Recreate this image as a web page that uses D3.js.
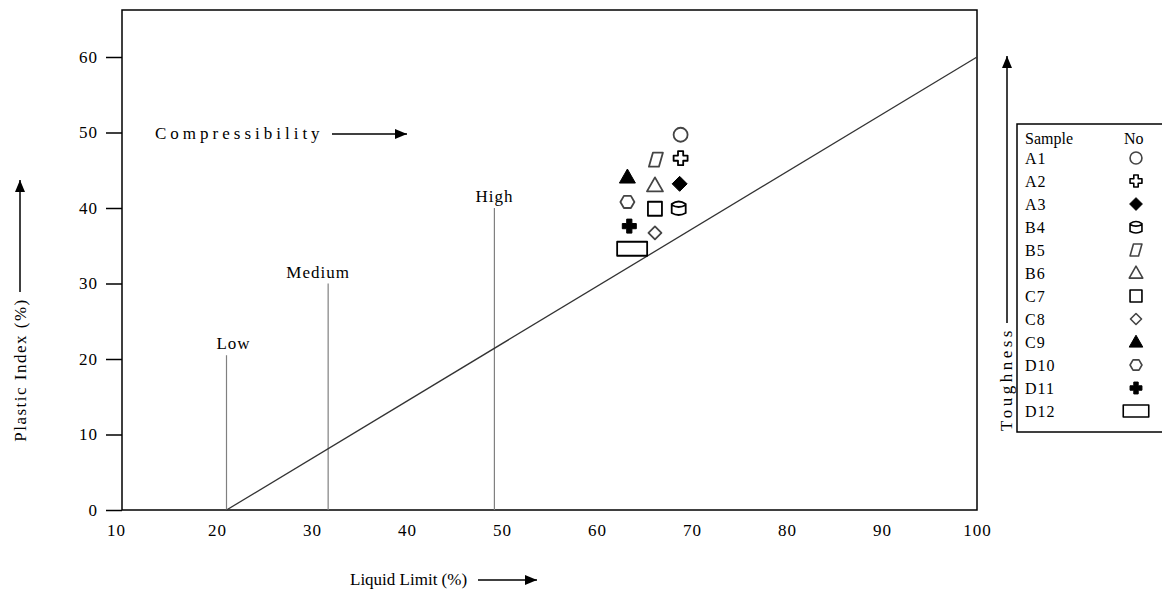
<!DOCTYPE html>
<html>
<head>
<meta charset="utf-8">
<script src="https://cdn.jsdelivr.net/npm/d3@7"></script>
<style>
    body { margin: 0; background: #fff; }
    text { font-family: "Liberation Serif", "Times New Roman", serif; fill: #000; }
</style>
</head>
<body>
<div id="chart"></div>
<script>
const xTicks = [10, 20, 30, 40, 50, 60, 70, 80, 90, 100];
const yTicks = [0, 10, 20, 30, 40, 50, 60];

const samples = ["A1", "A2", "A3", "B4", "B5", "B6", "C7", "C8", "C9", "D10", "D11", "D12"];
const liquidLimit = [68.8, 68.8, 68.7, 68.6, 66.2, 66.1, 66.1, 66.1, 63.2, 63.2, 63.4, 63.7];
const plasticIndex = [49.7, 46.6, 43.2, 40.0, 46.4, 43.0, 39.9, 36.7, 44.1, 40.8, 37.6, 34.6];
const shapes = ["circle", "cross", "diamondFill", "cylinder", "parallelogram", "triangle",
    "square", "diamond", "triangleFill", "hexagon", "crossFill", "rect"];

const zoneNames = ["Low", "Medium", "High"];
const zoneLL = [21, 31.7, 49.2];
const zonePI = [20.5, 30, 40];

const lineLL = [21, 100];
const linePI = [0, 60];

const width = 1162;
const height = 594;
const plot = { left: 122, right: 977, top: 10, bottom: 510 };

const xScale = d3.scaleLinear().domain([10, 100]).range([plot.left, plot.right]);
const yScale = d3.scaleLinear().domain([0, 60]).range([plot.bottom, 57]);

const svg = d3.select("#chart").append("svg")
    .attr("width", width)
    .attr("height", height)
    .attr("viewBox", [0, 0, width, height]);

svg.append("defs").append("marker")
    .attr("id", "head")
    .attr("viewBox", "0 0 12 10")
    .attr("refX", 12)
    .attr("refY", 5)
    .attr("markerWidth", 12)
    .attr("markerHeight", 10)
    .attr("markerUnits", "userSpaceOnUse")
    .attr("orient", "auto")
    .append("path")
    .attr("d", "M0,0 L12,5 L0,10 Z")
    .attr("fill", "#000");

// frame
svg.append("rect")
    .attr("x", plot.left)
    .attr("y", plot.top)
    .attr("width", plot.right - plot.left)
    .attr("height", plot.bottom - plot.top)
    .attr("fill", "none")
    .attr("stroke", "#000")
    .attr("stroke-width", 1.5);

// axes
const yAxis = svg.append("g")
    .attr("transform", `translate(${plot.left}, 0)`)
    .call(d3.axisLeft(yScale).tickValues(yTicks).tickSize(16).tickPadding(8));
yAxis.select(".domain").remove();
yAxis.selectAll(".tick line").attr("stroke", "#000").attr("stroke-width", 1.5);
yAxis.selectAll("text").attr("font-size", 17).attr("letter-spacing", 1).style("font-family", "Liberation Serif");

const xAxis = svg.append("g")
    .attr("transform", `translate(0, ${plot.bottom})`)
    .call(d3.axisBottom(xScale).tickValues(xTicks).tickSize(0).tickPadding(14));
xAxis.select(".domain").remove();
xAxis.selectAll("text").attr("font-size", 17).attr("letter-spacing", 1).style("font-family", "Liberation Serif");
xAxis.selectAll(".tick").filter((d) => d === 10).select("text").attr("dx", -6);

// compressibility zones
svg.append("g")
    .selectAll("line")
    .data(zoneNames)
    .join("line")
    .attr("x1", (d, i) => xScale(zoneLL[i]))
    .attr("x2", (d, i) => xScale(zoneLL[i]))
    .attr("y1", yScale(0))
    .attr("y2", (d, i) => yScale(zonePI[i]))
    .attr("stroke", "#808080")
    .attr("stroke-width", 1.2);

svg.append("g")
    .selectAll("text")
    .data(zoneNames)
    .join("text")
    .attr("x", (d, i) => xScale(zoneLL[i]) + (i === 1 ? -10 : i === 0 ? 7 : 0))
    .attr("y", (d, i) => yScale(zonePI[i]) - 6)
    .attr("text-anchor", "middle")
    .attr("font-size", 17)
    .attr("letter-spacing", 1)
    .text((d) => d);

// diagonal line
svg.append("path")
    .datum(lineLL.map((d, i) => [d, linePI[i]]))
    .attr("fill", "none")
    .attr("stroke", "#333")
    .attr("stroke-width", 1.3)
    .attr("d", d3.line().x((d) => xScale(d[0])).y((d) => yScale(d[1])));

// marker shapes
function shapePath(type, k) {
    const p = d3.path();
    const s = (v) => v * k;
    if (type === "circle") {
        p.arc(0, 0, s(7), 0, 2 * Math.PI);
    } else if (type === "cross" || type === "crossFill") {
        const a = s(2.6), b = s(7);
        p.moveTo(-a, -b); p.lineTo(a, -b); p.lineTo(a, -a); p.lineTo(b, -a);
        p.lineTo(b, a); p.lineTo(a, a); p.lineTo(a, b); p.lineTo(-a, b);
        p.lineTo(-a, a); p.lineTo(-b, a); p.lineTo(-b, -a); p.lineTo(-a, -a);
        p.closePath();
    } else if (type === "diamondFill") {
        p.moveTo(0, -s(7.5)); p.lineTo(s(7.5), 0); p.lineTo(0, s(7.5)); p.lineTo(-s(7.5), 0); p.closePath();
    } else if (type === "diamond") {
        p.moveTo(0, -s(6.5)); p.lineTo(s(6.5), 0); p.lineTo(0, s(6.5)); p.lineTo(-s(6.5), 0); p.closePath();
    } else if (type === "cylinder") {
        p.moveTo(-s(7), -s(4)); p.quadraticCurveTo(0, -s(9), s(7), -s(4));
        p.lineTo(s(7), s(5)); p.quadraticCurveTo(0, s(9), -s(7), s(5)); p.closePath();
        p.moveTo(-s(7), -s(3)); p.quadraticCurveTo(0, s(1), s(7), -s(3));
    } else if (type === "parallelogram") {
        p.moveTo(-s(3), -s(7)); p.lineTo(s(7), -s(7)); p.lineTo(s(3), s(7)); p.lineTo(-s(7), s(7)); p.closePath();
    } else if (type === "triangle" || type === "triangleFill") {
        p.moveTo(0, -s(8)); p.lineTo(s(8), s(6)); p.lineTo(-s(8), s(6)); p.closePath();
    } else if (type === "square") {
        p.rect(-s(7), -s(7), s(14), s(14));
    } else if (type === "hexagon") {
        for (let j = 0; j < 6; j++) {
            const ang = Math.PI / 3 * j;
            const px = s(7) * Math.cos(ang), py = s(7) * Math.sin(ang);
            if (j === 0) p.moveTo(px, py); else p.lineTo(px, py);
        }
        p.closePath();
    } else if (type === "rect") {
        p.rect(-s(15), -s(7), s(30), s(14));
    }
    return p.toString();
}

const filled = (t) => t === "diamondFill" || t === "triangleFill" || t === "crossFill";
const greyStroke = ["circle", "hexagon", "diamond", "triangle", "parallelogram"];

svg.append("g")
    .selectAll("path")
    .data(samples)
    .join("path")
    .attr("transform", (d, i) => `translate(${xScale(liquidLimit[i])}, ${yScale(plasticIndex[i])})`)
    .attr("d", (d, i) => shapePath(shapes[i], 1))
    .attr("fill", (d, i) => filled(shapes[i]) ? "#000" : "#fff")
    .attr("stroke", (d, i) => greyStroke.includes(shapes[i]) ? "#444" : "#000")
    .attr("stroke-width", (d, i) => filled(shapes[i]) ? 1 : 1.8)
    .attr("stroke-linejoin", "round");

// compressibility arrow
svg.append("text")
    .attr("x", 155)
    .attr("y", 139)
    .attr("font-size", 17)
    .attr("letter-spacing", 4)
    .text("Compressibility");
svg.append("line")
    .attr("x1", 332).attr("y1", 134).attr("x2", 407).attr("y2", 134)
    .attr("stroke", "#000").attr("stroke-width", 1.5)
    .attr("marker-end", "url(#head)");

// x axis label
svg.append("text")
    .attr("x", 350)
    .attr("y", 585)
    .attr("font-size", 17)
    .text("Liquid Limit (%)");
svg.append("line")
    .attr("x1", 478).attr("y1", 580).attr("x2", 537).attr("y2", 580)
    .attr("stroke", "#000").attr("stroke-width", 1.5)
    .attr("marker-end", "url(#head)");

// y axis label
svg.append("text")
    .attr("transform", "translate(26, 370) rotate(-90)")
    .attr("text-anchor", "middle")
    .attr("font-size", 17)
    .attr("letter-spacing", 1.5)
    .text("Plastic Index (%)");
svg.append("line")
    .attr("x1", 20).attr("y1", 292).attr("x2", 20).attr("y2", 180)
    .attr("stroke", "#000").attr("stroke-width", 1.5)
    .attr("marker-end", "url(#head)");

// toughness arrow
svg.append("text")
    .attr("transform", "translate(1012, 379) rotate(-90)")
    .attr("text-anchor", "middle")
    .attr("font-size", 17)
    .attr("letter-spacing", 3.5)
    .text("Toughness");
svg.append("line")
    .attr("x1", 1007).attr("y1", 323).attr("x2", 1007).attr("y2", 56)
    .attr("stroke", "#000").attr("stroke-width", 1.5)
    .attr("marker-end", "url(#head)");

// legend
const legend = svg.append("g").attr("transform", "translate(1017, 124)");
legend.append("rect")
    .attr("x", 0).attr("y", 0)
    .attr("width", 160).attr("height", 308)
    .attr("fill", "#fff")
    .attr("stroke", "#000")
    .attr("stroke-width", 1.5);
legend.append("text").attr("x", 8).attr("y", 20).attr("font-size", 16).text("Sample");
legend.append("text").attr("x", 107).attr("y", 20).attr("font-size", 16).text("No");

const rows = legend.selectAll("g.row")
    .data(samples)
    .join("g")
    .attr("class", "row")
    .attr("transform", (d, i) => `translate(0, ${34 + i * 23})`);
rows.append("text")
    .attr("x", 8)
    .attr("y", 6)
    .attr("font-size", 16)
    .attr("letter-spacing", 1)
    .text((d) => d);
rows.append("path")
    .attr("transform", "translate(119, 0)")
    .attr("d", (d, i) => shapePath(shapes[i], 0.85))
    .attr("fill", (d, i) => filled(shapes[i]) ? "#000" : "#fff")
    .attr("stroke", (d, i) => greyStroke.includes(shapes[i]) ? "#444" : "#000")
    .attr("stroke-width", (d, i) => filled(shapes[i]) ? 1 : 1.6)
    .attr("stroke-linejoin", "round");
</script>
</body>
</html>
